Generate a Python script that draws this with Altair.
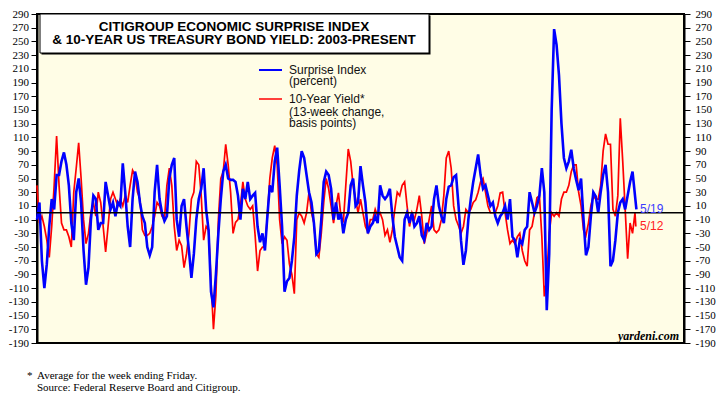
import altair as alt
import pandas as pd

# Citigroup Economic Surprise Index (percent), monthly readings from Jan 2003
surprise = [
    -10, 15, -70, -110, -75, -20, 20, 5, 55, 55, 75, 88,        # 2003
    70, 40, -15, -40, 30, 50, 15, -55, -105, -80, -10, 25,      # 2004
    20, -25, -15, -15, 45, 25, 5, 15, -5, 15, 10, 72,           # 2005
    30, -20, -50, 20, 60, 45, 15, -5, -15, -50, -62, -50,       # 2006
    30, 70, 20, 0, -12, -5, 50, 70, 80, -10, -35, 10,           # 2007
    20, -20, -55, -95, -60, -10, 20, 35, 65, 5, -25, -115,      # 2008
    -138, -90, -30, 20, 60, 70, 50, 48, 48, 45, 25, -10,        # 2009
    35, 20, 45, 20, 25, 29, -20, -43, -30, -55, -5, 40,         # 2010
    30, 75, 95, 40, -20, -115, -100, -95, -70, -35, 25, 62,     # 2011
    90, 80, 55, 30, 15, -15, -60, -55, -10, 45, 60, 55,         # 2012
    35, -10, 15, -10, 0, -30, -10, 0, 40, 50, 10, 15,           # 2013
    68, 40, 15, -30, -20, -15, -5, -15, 40, 25, 20, 25,         # 2014
    35, -5, -35, -50, -65, -70, -10, 0, -15, 0, -20, -15,       # 2015
    -5, -33, -40, -15, -25, -20, 20, 40, 10, -5, -15, 20,       # 2016
    38, 40, 52, 55, 10, -40, -76, -55, -10, 20, 45, 65,         # 2017
    85, 55, 35, 40, 25, 10, 15, -5, -15, -5, 0, 10,             # 2018
    -10, 20, -35, -40, -65, -40, -45, -25, -20, 30, 15, 0,      # 2019
    10, 25, 65, 30, -142, -60, 150, 268, 245, 200, 130, 80,     # 2020
    65, 75, 92, 65, 48, 33, 50, -10, -62, -50, -5, 30,          # 2021
    24, 0, 30, 55, 70, 30, -78, -70, -40, 0, 15, 20,            # 2022
    5, 25, 45, 60, 25,                                          # 2023
]
surprise_last_date = 2023 + (4 + 18 / 31) / 12   # 5/19/2023
surprise_last = 5

# 10-Year Treasury yield, 13-week change (basis points), monthly from Jan 2003
yield_chg = [
    40, -15, -5, -20, -40, -65, -20, 40, 112, 40, -15, -25,      # 2003
    -25, -35, -50, 30, 65, 102, 50, -10, -45, -30, 0, 15,        # 2004
    -5, 30, 15, -20, -57, -20, 20, 30, 20, 10, 20, 10,           # 2005
    25, 15, 40, 62, 55, 30, 20, -25, -33, -33, -30, -20,         # 2006
    -5, 15, 10, -5, -10, 40, 65, 40, -20, -55, -40, -48,         # 2007
    -80, -60, -30, 20, 30, 75, 70, 25, -40, -20, -25, -100,      # 2008
    -170, -120, -10, 50, 60, 100, 70, 30, -30, -14, -10, 10,     # 2009
    45, 20, 10, 5, 10, -33, -85, -55, -50, -50, -5, 50,          # 2010
    80, 98, 70, -10, -45, -35, -40, -75, -90, -118, -10, 0,      # 2011
    -5, -15, 0, 30, 0, -15, -60, -65, -30, 15, 50, 35,           # 2012
    10, -15, 10, 29, -5, -14, 40, 93, 75, 40, 20, 0,             # 2013
    20, 0, -20, -28, -10, -10, 5, -5, 0, -10, -33, -25,          # 2014
    -43, -25, 5, 30, 25, 40, 45, 10, -20, 0, -10, 5,             # 2015
    25, -5, -45, -30, -10, 10, -25, -29, -25, -10, 25, 80,       # 2016
    90, 65, 10, -10, -19, -30, -20, 5, 0, 5, 15, 19,             # 2017
    30, 45, 50, 30, 10, 0, 0, 0, 10, 29, 30, 0,                  # 2018
    -25, -45, -40, -45, -35, -30, -55, -70, -78, -25, -20, 0,    # 2019
    22, 25, -35, -122, -95, -30, 0, -5, 0, -5, 20, 30,           # 2020
    30, 40, 60, 70, 70, 30, 10, -25, -33, -15, 10, 25,           # 2021
    20, 20, 40, 90, 115, 100, 100, 5, -5, 25, 138, 75,           # 2022
    5, -67, -15, -30, 0,                                         # 2023
]
yield_last_date = 2023 + (4 + 11 / 31) / 12      # 5/12/2023
yield_last = -20

y_ticks = list(range(-190, 291, 20))
x_ticks = list(range(2003, 2026))

blue_df = pd.DataFrame({
    "t": [2003 + i / 12 for i in range(len(surprise))] + [surprise_last_date],
    "v": surprise + [surprise_last],
})
red_df = pd.DataFrame({
    "t": [2003 + i / 12 for i in range(len(yield_chg))] + [yield_last_date],
    "v": yield_chg + [yield_last],
})

xscale = alt.Scale(domain=[2003, 2025], nice=False, zero=False)
yscale = alt.Scale(domain=[-190, 290], nice=False, zero=False)

serif = "Liberation Serif"
sans = "Liberation Sans"

def yaxis(orient, pad):
    return alt.Axis(values=y_ticks, orient=orient, tickSize=6, tickWidth=1,
                    tickColor="black", labelPadding=pad, domain=True,
                    domainColor="black", domainWidth=2, grid=False, title=None,
                    labelExpr="datum.value < 0 ? '-' + abs(datum.value) : '' + datum.value",
                    labelFont=serif, labelFontSize=11, labelColor="black",
                    labelFlush=False, labelOverlap=False)

xaxis = alt.Axis(values=x_ticks, format="d", tickSize=9, tickWidth=2,
                 tickColor="black", labelOffset=14.7,
                 labelExpr="datum.value < 2025 ? datum.label : ''",
                 labelBaseline="middle", labelPadding=2, domainColor="black",
                 domainWidth=2, grid=False, title=None, labelFont=serif,
                 labelFontSize=11, labelColor="black", labelFlush=False,
                 labelOverlap=False)

red = alt.Chart(red_df).mark_line(color="#FF0000", strokeWidth=1.7).encode(
    x=alt.X("t:Q", scale=xscale, axis=xaxis),
    y=alt.Y("v:Q", scale=yscale, axis=yaxis("left", 2.5)),
)
blue = alt.Chart(blue_df).mark_line(color="#0000FF", strokeWidth=2.6).encode(
    x=alt.X("t:Q", scale=xscale, axis=None),
    y=alt.Y("v:Q", scale=yscale, axis=yaxis("right", 5)),
)
zero = alt.Chart(pd.DataFrame({"v": [0]})).mark_rule(color="black", strokeWidth=1.5).encode(
    y=alt.Y("v:Q", scale=yscale, axis=None),
)

one = pd.DataFrame({"k": [0]})

def txt(s, x, y, **kw):
    return alt.Chart(one).mark_text(**kw).encode(
        x=alt.value(x), y=alt.value(y), text=alt.value(s))

def rule(x1, x2, y, color, w):
    return alt.Chart(one).mark_rule(color=color, strokeWidth=w).encode(
        x=alt.value(x1), x2=alt.value(x2), y=alt.value(y))

box_shadow = alt.Chart(one).mark_rect(fill="black").encode(
    x=alt.value(4.5), x2=alt.value(393.5), y=alt.value(1.5), y2=alt.value(40.5))
box = alt.Chart(one).mark_rect(fill="white", stroke="black", strokeWidth=1).encode(
    x=alt.value(3), x2=alt.value(392), y=alt.value(0), y2=alt.value(39))

title_kw = dict(font=sans, fontWeight="bold", fontSize=13.5, align="center",
                baseline="middle", color="black")
leg_kw = dict(font=sans, fontSize=12, align="left", baseline="middle", color="#111111")
foot_kw = dict(font=serif, fontSize=11, align="left", baseline="middle", color="black")

layers = [
    red, blue, zero,
    box_shadow, box,
    txt("CITIGROUP ECONOMIC SURPRISE INDEX", 197, 12.5, **title_kw),
    txt("& 10-YEAR US TREASURY BOND YIELD: 2003-PRESENT", 197, 25.5, **title_kw),
    rule(222, 245, 56, "#0000FF", 2),
    txt("Surprise Index", 252, 56, **leg_kw),
    txt("(percent)", 252, 67, **leg_kw),
    rule(222, 245, 85, "#FF0000", 1.5),
    txt("10-Year Yield*", 252, 85, **leg_kw),
    txt("(13-week change,", 252, 97.5, **leg_kw),
    txt("basis points)", 252, 109, **leg_kw),
    txt("5/19", 603, 195, font=sans, fontSize=12, align="left", baseline="middle", color="#3B3BFF"),
    txt("5/12", 603, 212, font=sans, fontSize=12, align="left", baseline="middle", color="#FF2020"),
    txt("yardeni.com", 642, 322, font=serif, fontSize=12, fontWeight="bold",
        fontStyle="italic", align="right", baseline="middle", color="black"),
    txt("*", -10, 362, **foot_kw),
    txt("Average for the week ending Friday.", 0, 362, **foot_kw),
    txt("Source: Federal Reserve Board and Citigroup.", 0, 374, **foot_kw),
]

chart = alt.layer(*layers).resolve_scale(y="independent").resolve_axis(
    y="independent"
).properties(
    width=647, height=329, autosize="none",
    padding={"left": 29, "top": 6, "right": 35, "bottom": 52},
).configure_view(fill="#FFFDE6", stroke="black", strokeWidth=2)

chart.save("out.html", embed_options={"renderer": "svg", "actions": False})
